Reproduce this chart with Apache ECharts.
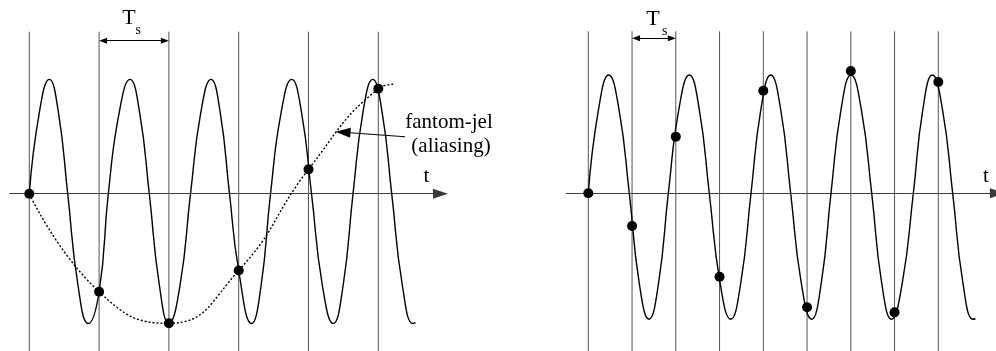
<!DOCTYPE html>
<html>
<head>
<meta charset="utf-8">
<script src="https://cdn.jsdelivr.net/npm/echarts@6/dist/echarts.min.js"></script>
<style>
  html, body { margin: 0; padding: 0; background: #fff; }
  #chart { width: 996px; height: 351px; }
</style>
</head>
<body>
<div id="chart"></div>
<script>
// ---- Data (time in units of the sampling period Ts) ----

// Left: undersampled signal, sampling instants and sampled values
const leftSampleTimes = [0, 1, 2, 3, 4, 5];
const leftSampleValues = [0, -0.817, -1.080, -0.640, 0.203, 0.875];

// Left: the signal itself (crossings, extremes and the points between)
const leftWaveT = [0, 0.143, 0.287, 0.418, 0.550, 0.698, 0.845, 1.000, 1.132, 1.287,
  1.443, 1.581, 1.719, 1.864, 2.000, 2.159, 2.310, 2.456, 2.603, 2.736,
  2.868, 3.000, 3.186, 3.321, 3.456, 3.607, 3.759, 3.901, 4.043, 4.199,
  4.355, 4.496, 4.638, 4.779, 4.920, 5.056, 5.192, 5.345, 5.497, 5.533];
const leftWaveV = [0, 0.674, 0.953, 0.674, 0, -0.765, -1.082, -0.817, 0, 0.674,
  0.953, 0.674, 0, -0.765, -1.080, -0.765, 0, 0.674, 0.953, 0.674,
  0, -0.640, -1.082, -0.765, 0, 0.674, 0.953, 0.674, 0, -0.765,
  -1.082, -0.765, 0, 0.674, 0.953, 0.674, 0, -0.765, -1.082, -1.075];

// Left: the alias (fantom-jel) that the samples trace out
const aliasT = [0, 1, 2, 3, 4, 5, 5.215];
const aliasV = [0, -0.817, -1.080, -0.640, 0.203, 0.875, 0.912];

// Right: faster sampling of the same kind of signal
const rightSampleTimes = [0, 1, 2, 3, 4, 5, 6, 7, 8];
const rightSampleValues = [0, -0.273, 0.472, -0.695, 0.855, -0.950, 1.019, -0.992, 0.928];

const rightWaveT = [0, 0.233, 0.466, 0.702, 0.937, 1.162, 1.387, 1.608, 1.829, 2.069,
  2.309, 2.537, 2.766, 3.010, 3.255, 3.487, 3.719, 3.944, 4.169, 4.398,
  4.626, 4.866, 5.106, 5.327, 5.547, 5.776, 6.005, 6.241, 6.478, 6.704,
  6.930, 7.179, 7.429, 7.646, 7.863, 8.096, 8.329, 8.561, 8.793, 8.850];
const rightWaveV = [0, 0.697, 0.986, 0.697, 0, -0.742, -1.049, -0.742, 0, 0.697,
  0.986, 0.697, 0, -0.742, -1.049, -0.742, 0, 0.697, 0.986, 0.697,
  0, -0.742, -1.049, -0.742, 0, 0.697, 0.986, 0.697, 0, -0.742,
  -1.049, -0.742, 0, 0.697, 0.986, 0.697, 0, -0.742, -1.049, -1.045];

// Texts
const periodLabel = 'T';
const periodSub = 's';
const timeLabel = 't';
const aliasLabel = ['fantom-jel', '(aliasing)'];

// ---- Layout ----
const FONT = '"Liberation Serif", "Times New Roman", serif';
const PANELS = [
  { tsPx: 69.8, originPx: 29.3, zeroPx: 193.7, xMin: -0.28, xMax: 5.89 },
  { tsPx: 43.75, originPx: 588.3, zeroPx: 193.3, xMin: -0.5, xMax: 9.35 }
];
const Y_PX = 120, Y_MIN = -1.5, Y_MAX = 1.5;
const LINE_TOP = 1.35;

const zip = (a, b) => a.map((v, i) => [v, b[i]]);

// move the end point of a segment back by `px` pixels (arrow heads are centred on it)
function pullBack(from, to, px, p) {
  const dx = (to[0] - from[0]) * p.tsPx, dy = (to[1] - from[1]) * Y_PX;
  const len = Math.hypot(dx, dy);
  return [to[0] - (dx / len) * px / p.tsPx, to[1] - (dy / len) * px / Y_PX];
}

const grids = PANELS.map(p => ({
  left: p.originPx + p.xMin * p.tsPx,
  width: (p.xMax - p.xMin) * p.tsPx,
  top: p.zeroPx - Y_MAX * Y_PX,
  height: (Y_MAX - Y_MIN) * Y_PX,
  containLabel: false,
  outerBoundsMode: 'none'
}));

const xAxes = PANELS.map((p, i) => ({
  type: 'value', gridIndex: i, min: p.xMin, max: p.xMax,
  axisLine: { show: true, onZero: true, symbol: ['none', 'triangle'], symbolSize: [10, 15],
    lineStyle: { color: '#3a3a3a', width: 1.1 } },
  axisTick: { show: false }, axisLabel: { show: false }, splitLine: { show: false }
}));
const yAxes = PANELS.map((p, i) => ({
  type: 'value', gridIndex: i, min: Y_MIN, max: Y_MAX, show: false,
  axisLine: { show: false }, splitLine: { show: false }
}));

const series = [];

function sampleLines(times, idx) {
  times.forEach(t => series.push({
    type: 'line', xAxisIndex: idx, yAxisIndex: idx, z: 1, silent: true,
    showSymbol: false, data: [[t, LINE_TOP], [t, Y_MIN]],
    lineStyle: { color: '#555', width: 1 }
  }));
}
sampleLines(leftSampleTimes, 0);
sampleLines(rightSampleTimes, 1);

function tsArrow(idx, v) {
  const p = PANELS[idx];
  const a = [1, v], b = [2, v];
  const head = 8;
  return {
    silent: true, symbol: ['triangle', 'triangle'], symbolSize: [6, head],
    label: { show: false }, lineStyle: { color: '#000', width: 1.1, type: 'solid' },
    data: [[{ coord: pullBack(b, a, head / 2, p) }, { coord: pullBack(a, b, head / 2, p) }]]
  };
}

// signal curves
series.push({
  type: 'line', xAxisIndex: 0, yAxisIndex: 0, z: 2, silent: true, smooth: 0.5,
  showSymbol: false, data: zip(leftWaveT, leftWaveV),
  lineStyle: { color: '#000', width: 1.4 }
});
series.push({
  type: 'line', xAxisIndex: 1, yAxisIndex: 1, z: 2, silent: true, smooth: 0.5,
  showSymbol: false, data: zip(rightWaveT, rightWaveV),
  lineStyle: { color: '#000', width: 1.4 }
});

// alias curve with its pointer arrow
const arrowFrom = [5.383, 0.475], arrowTip = [4.387, 0.517];
series.push({
  type: 'line', xAxisIndex: 0, yAxisIndex: 0, z: 2, silent: true, smooth: 0.5,
  showSymbol: false, data: zip(aliasT, aliasV),
  lineStyle: { color: '#000', width: 1.4, type: [2, 2] },
  markLine: {
    silent: true, symbol: ['none', 'triangle'], symbolSize: [10, 15],
    label: { show: false }, lineStyle: { color: '#000', width: 1.1, type: 'solid' },
    data: [[{ coord: arrowFrom }, { coord: pullBack(arrowFrom, arrowTip, 7.5, PANELS[0]) }]]
  }
});

// samples
series.push({
  type: 'scatter', xAxisIndex: 0, yAxisIndex: 0, z: 3, silent: true,
  symbolSize: 10, itemStyle: { color: '#000', opacity: 1 },
  data: zip(leftSampleTimes, leftSampleValues),
  markLine: tsArrow(0, 1.275)
});
series.push({
  type: 'scatter', xAxisIndex: 1, yAxisIndex: 1, z: 3, silent: true,
  symbolSize: 10, itemStyle: { color: '#000', opacity: 1 },
  data: zip(rightSampleTimes, rightSampleValues),
  markLine: tsArrow(1, 1.292)
});

function txt(text, x, y, size, align) {
  return { type: 'text', x: x, y: y, silent: true, z: 10,
    style: { text: text, fill: '#000', font: size + 'px ' + FONT,
      textAlign: align || 'center', textVerticalAlign: 'middle',
      align: align || 'center', verticalAlign: 'middle' } };
}

const chart = echarts.init(document.getElementById('chart'), null, { renderer: 'canvas' });
chart.setOption({
  backgroundColor: '#fff',
  animation: false,
  grid: grids,
  xAxis: xAxes,
  yAxis: yAxes,
  series: series,
  graphic: [
    txt(periodLabel, 129, 18.2, 22),
    txt(periodSub, 135.5, 30.6, 14, 'left'),
    txt(periodLabel, 653, 19, 22),
    txt(periodSub, 662, 31.3, 14, 'left'),
    txt(timeLabel, 426.5, 176.2, 21),
    txt(timeLabel, 985.8, 176.2, 21),
    txt(aliasLabel[0], 449, 122.2, 21),
    txt(aliasLabel[1], 451, 146.2, 21)
  ]
});
</script>
</body>
</html>
